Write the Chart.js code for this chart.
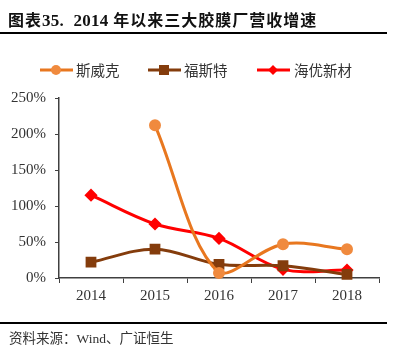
<!DOCTYPE html>
<html><head><meta charset="utf-8">
<script src="https://cdn.jsdelivr.net/npm/chart.js@4.4.1/dist/chart.umd.min.js"></script>
<style>
html,body{margin:0;padding:0;background:#fff;}
#wrap{position:relative;width:408px;height:357px;overflow:hidden;}
#c{position:absolute;left:0;top:0;}
.title{position:absolute;left:8px;top:7px;font:bold 16px "Noto Sans CJK SC","Liberation Serif",serif;color:#111;white-space:nowrap;letter-spacing:1px;}
.title .n{font-family:"Liberation Serif",serif;font-size:17px;letter-spacing:0.3px;}
.rule{position:absolute;left:0;width:387px;height:2px;background:#000;}
.src{position:absolute;left:9px;top:327px;font:13.5px "Noto Sans CJK SC",serif;color:#333;white-space:nowrap;}
.src .n{font-family:"Liberation Serif",serif;}
.lg{position:absolute;top:61px;height:18px;font:14.5px "Noto Sans CJK SC",sans-serif;color:#333;white-space:nowrap;line-height:18px;}
.lg svg{position:absolute;top:0;}
</style></head><body>
<div id="wrap">
<canvas id="c" width="408" height="357"></canvas>
<div class="title">图表<span class="n">35.</span>&nbsp;&nbsp;<span class="n">2014</span> 年以来三大胶膜厂营收增速</div>
<div class="rule" style="top:32px"></div>
<div id="legend"></div>
<div class="rule" style="top:322px"></div>
<div class="src">资料来源：<span class="n">Wind</span>、广证恒生</div>
</div>
<script>
const categories = ['2014', '2015', '2016', '2017', '2018'];
const seriesNames = ['斯威克', '福斯特', '海优新材'];
const siweike = [null, 212, 7, 47, 40];
const fosite = [22, 40, 19, 17, 5];
const haiyou = [115, 75, 55, 12, 11];
const yTicks = [0, 50, 100, 150, 200, 250];

const lineColors = ['#E8771F', '#843C0C', '#FF0000'];
const pointColors = ['#F08A3E', '#843C0C', '#FF0000'];
const pointStyles = ['circle', 'rect', 'rectRot'];
const pointRadii = [4.5, 5.5, 4.5];

// HTML legend
const legendPos = [[40, 76], [148, 184], [257, 294]];
const legend = document.getElementById('legend');
seriesNames.forEach((name, i) => {
  const d = document.createElement('div');
  d.className = 'lg';
  d.style.left = legendPos[i][0] + 'px';
  d.style.paddingLeft = (legendPos[i][1] - legendPos[i][0]) + 'px';
  let marker = '';
  if (i === 0) marker = '<circle cx="16" cy="9" r="5" fill="' + pointColors[0] + '"/>';
  if (i === 1) marker = '<rect x="11" y="4" width="10" height="10" fill="' + pointColors[1] + '"/>';
  if (i === 2) marker = '<polygon points="16,4 21,9 16,14 11,9" fill="' + pointColors[2] + '"/>';
  d.innerHTML = '<svg width="33" height="18" style="left:0"><line x1="0" y1="9" x2="33" y2="9" stroke="' + lineColors[i] + '" stroke-width="3"/>' + marker + '</svg>' + name;
  legend.appendChild(d);
});

const dataArrays = [siweike, fosite, haiyou];
new Chart(document.getElementById('c'), {
  type: 'line',
  data: {
    labels: categories,
    datasets: dataArrays.map((arr, i) => ({
      label: seriesNames[i],
      data: arr,
      borderColor: lineColors[i],
      backgroundColor: pointColors[i],
      pointBackgroundColor: pointColors[i],
      pointBorderColor: pointColors[i],
      pointStyle: pointStyles[i],
      pointRadius: pointRadii[i],
      borderWidth: 3,
      tension: 0.35,
      fill: false,
      clip: false,
      spanGaps: false
    }))
  },
  options: {
    responsive: false,
    animation: false,
    layout: { padding: { left: 0, right: 29, top: 98, bottom: 49 } },
    plugins: { legend: { display: false }, tooltip: { enabled: false } },
    scales: {
      x: {
        offset: true,
        grid: { display: true, drawOnChartArea: false, drawTicks: true, tickLength: 5, color: '#404040', offset: true },
        border: { display: true, color: '#404040', width: 1.5 },
        ticks: { color: '#333', padding: 4, font: { family: '"Liberation Serif", serif', size: 15 } },
        afterFit: s => { s.height = 30; }
      },
      y: {
        min: 0, max: 250,
        afterBuildTicks: s => { s.ticks = yTicks.map(v => ({ value: v })); },
        grid: { display: true, drawOnChartArea: false, drawTicks: true, tickLength: 4, color: '#404040' },
        border: { display: true, color: '#404040', width: 1.5 },
        ticks: { color: '#333', padding: 9, font: { family: '"Liberation Serif", serif', size: 15 }, callback: v => v + '%' },
        afterFit: s => { s.width = 59; }
      }
    }
  }
});
</script>
</body></html>
